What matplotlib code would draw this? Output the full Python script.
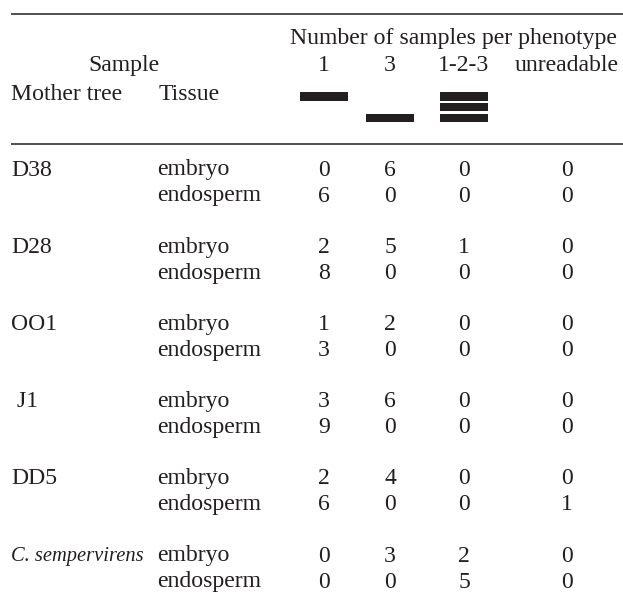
import matplotlib
matplotlib.use("Agg")
import matplotlib.pyplot as plt
from matplotlib.patches import Rectangle

# ---- data ----
mother_trees = ["D38", "D28", "OO1", " J1", "DD5", "C. sempervirens"]
italic_trees = ["C. sempervirens"]
tissues = ["embryo", "endosperm"]
phenotypes = ["1", "3", "1-2-3", "unreadable"]
# band levels drawn under each phenotype header (0 = top, 2 = bottom)
band_levels = {"1": [0], "3": [2], "1-2-3": [0, 1, 2], "unreadable": []}
counts_embryo = [
    [0, 6, 0, 0],
    [2, 5, 1, 0],
    [1, 2, 0, 0],
    [3, 6, 0, 0],
    [2, 4, 0, 0],
    [0, 3, 2, 0],
]
counts_endosperm = [
    [6, 0, 0, 0],
    [8, 0, 0, 0],
    [3, 0, 0, 0],
    [9, 0, 0, 0],
    [6, 0, 0, 1],
    [0, 0, 5, 0],
]

# ---- layout ----
W, H = 623, 599
fig = plt.figure(figsize=(W / 100, H / 100), dpi=100)
ax = fig.add_axes([0, 0, 1, 1])
ax.set_xlim(0, W)
ax.set_ylim(H, 0)
ax.axis("off")

FONT = "Liberation Serif"
FS = 17.1
FS_IT = 14.8
COL = "#231f20"

x_tree = 11
x_tissue = 157
col_x = [324, 390, 464, 567]

def txt(x, y, s, ha="left", style="normal", fs=FS):
    ax.text(x, y, s, ha=ha, va="baseline", fontsize=fs, family=FONT,
            color=COL, style=style)

# rules
ax.plot([11, W], [13.5, 13.5], color=COL, lw=1.1, solid_capstyle="butt")
ax.plot([11, W], [143.5, 143.5], color=COL, lw=1.1, solid_capstyle="butt")

# header
txt(617, 44, "Number of samples per phenotype", ha="right")
txt(88, 71, "Sample")
for cx, p in zip(col_x, phenotypes):
    txt(cx, 71, p, ha="center")
txt(x_tree, 100, "Mother tree")
txt(159, 100, "Tissue")

# band glyphs
band_w, band_h, band_y0, band_step = 48, 8.4, 96.5, 10.7
for cx, p in zip(col_x, phenotypes):
    for lvl in band_levels[p]:
        yc = band_y0 + lvl * band_step
        ax.add_patch(Rectangle((cx - band_w / 2, yc - band_h / 2), band_w, band_h,
                               facecolor=COL, edgecolor="none"))

# body
y0, row_step, group_step = 175.5, 26, 77.2
for i, tree in enumerate(mother_trees):
    ye = y0 + i * group_step
    yn = ye + row_step
    if tree in italic_trees:
        txt(x_tree, ye, tree, style="italic", fs=FS_IT)
    else:
        txt(x_tree, ye, tree)
    txt(x_tissue, ye, tissues[0])
    txt(x_tissue, yn, tissues[1])
    for cx, v in zip(col_x, counts_embryo[i]):
        txt(cx, ye, str(v), ha="center")
    for cx, v in zip(col_x, counts_endosperm[i]):
        txt(cx, yn, str(v), ha="center")

fig.savefig("out.png", dpi=100, facecolor="white")
